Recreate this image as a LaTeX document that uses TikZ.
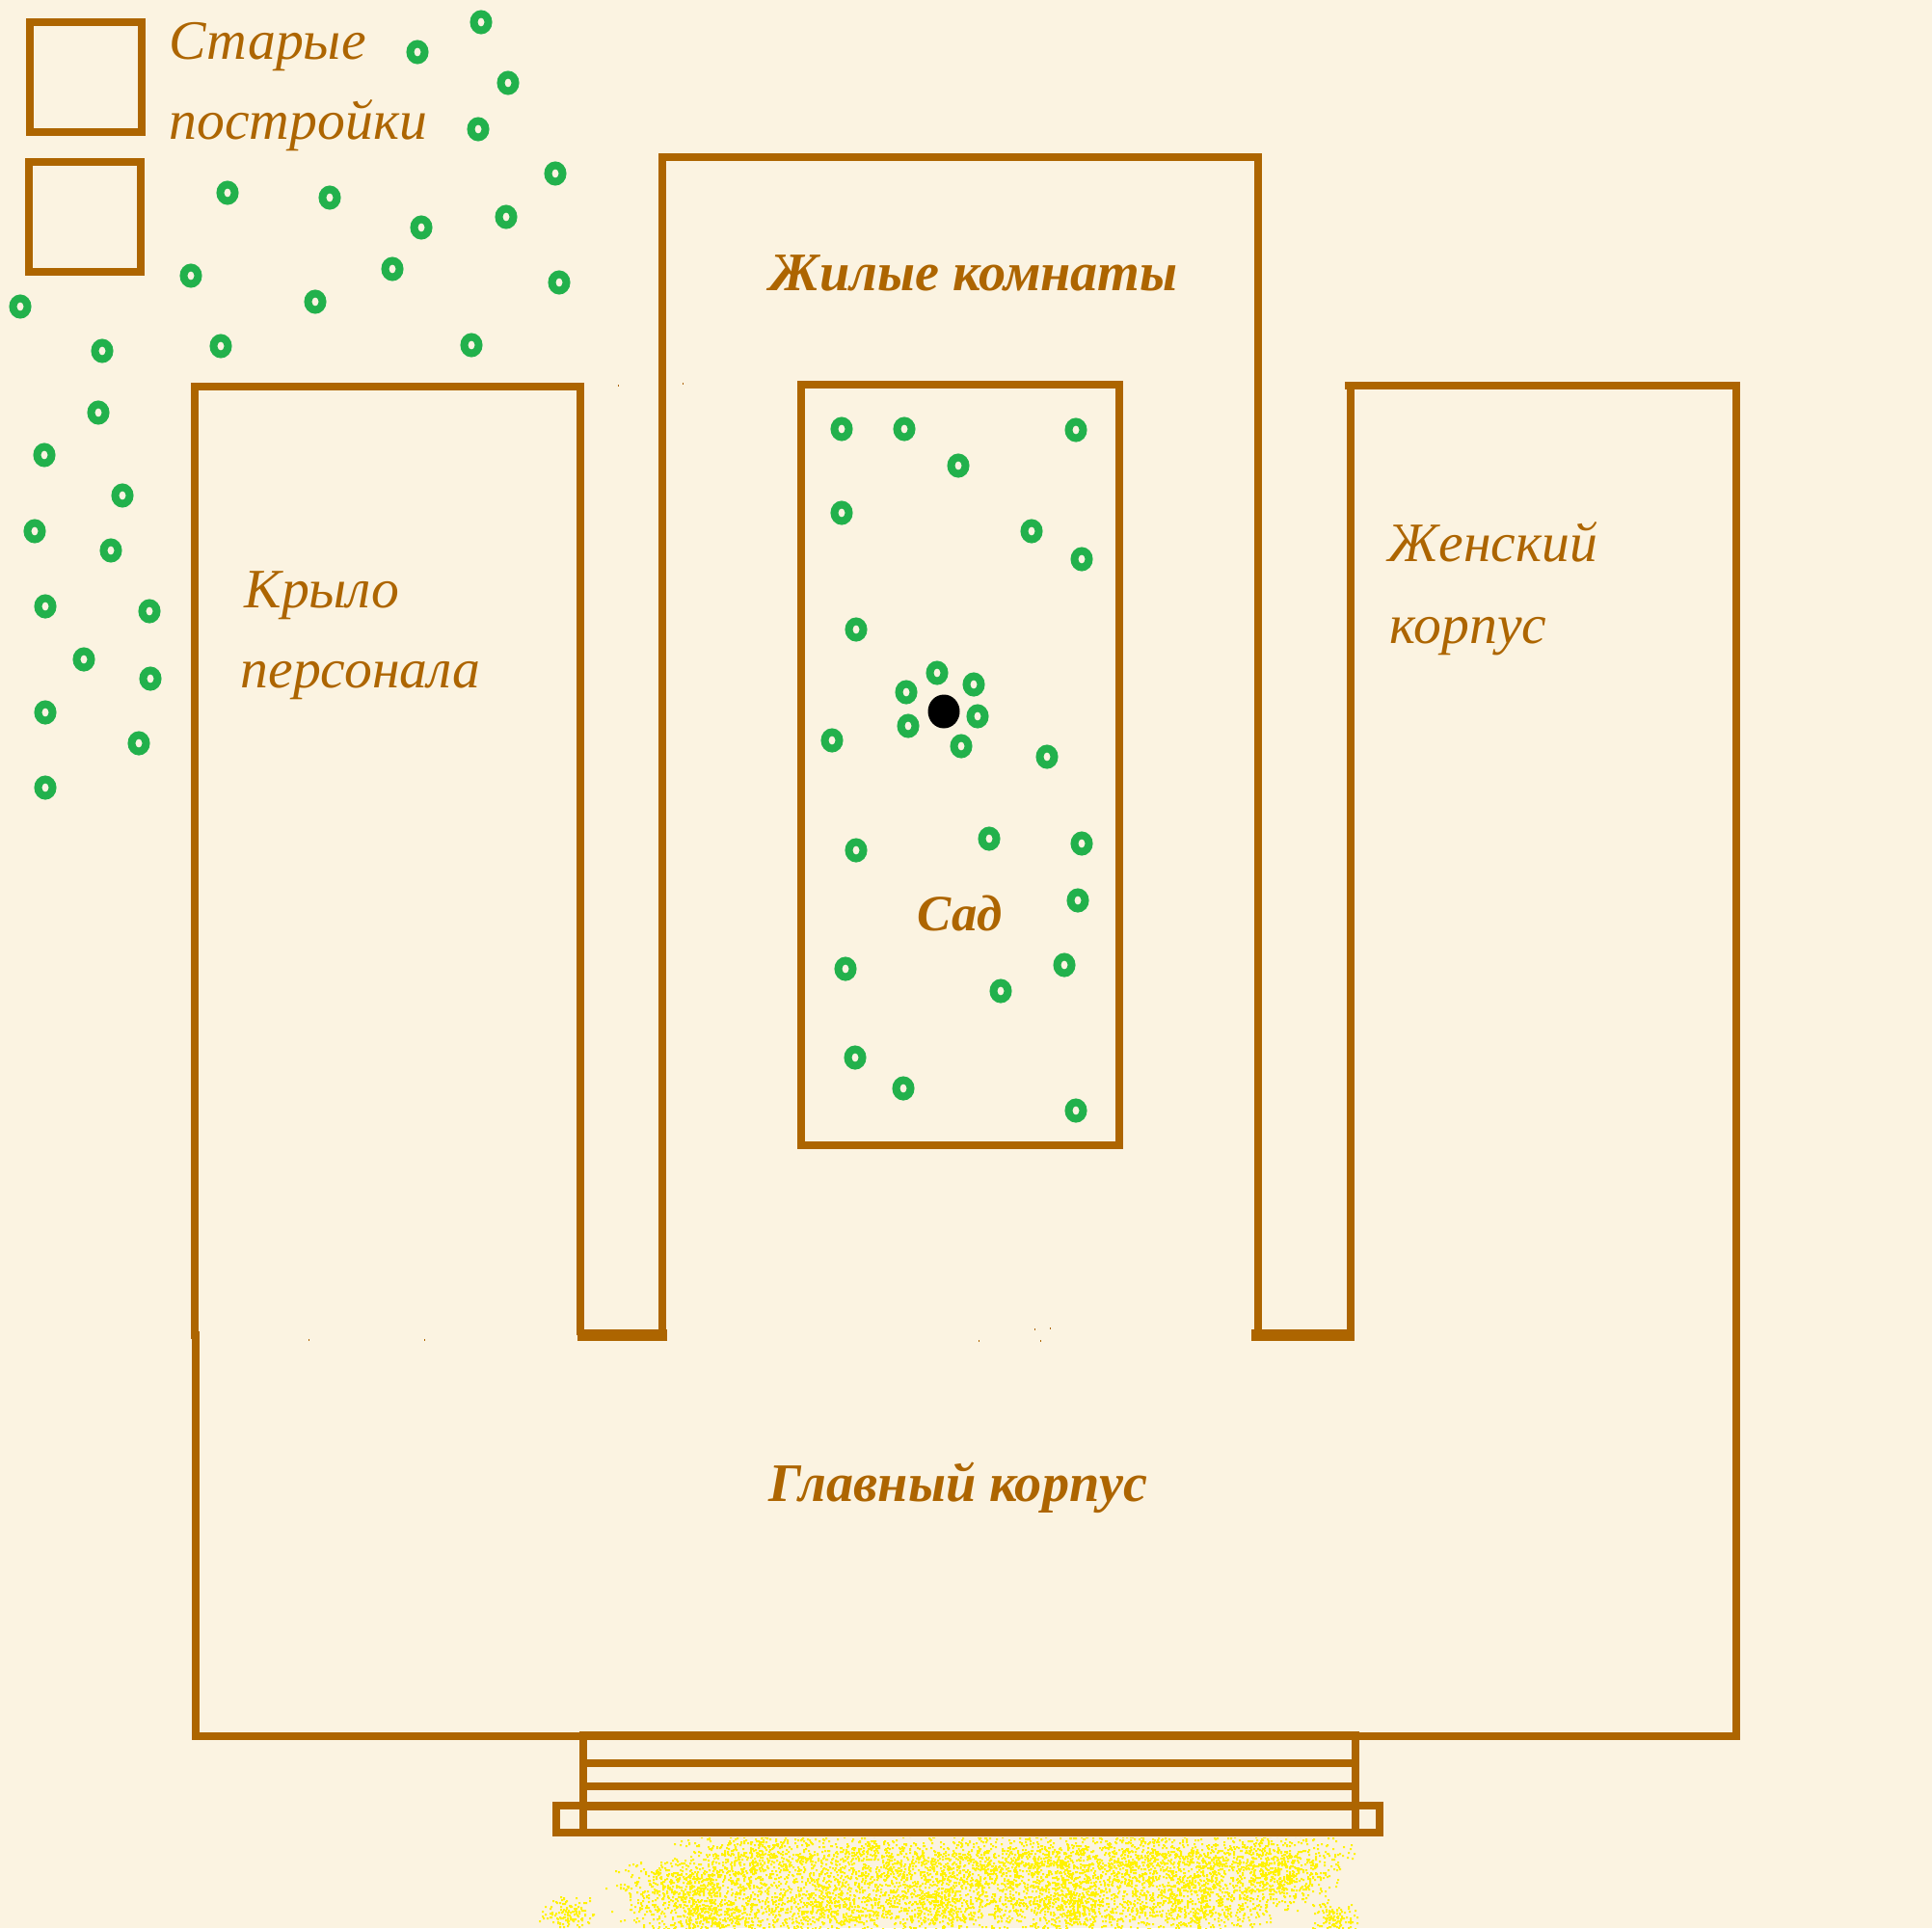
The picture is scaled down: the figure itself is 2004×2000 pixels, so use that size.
\documentclass[tikz,border=0pt]{standalone}
\usepackage{fontspec}
\setmainfont{Liberation Serif}
\definecolor{paper}{RGB}{251,243,225}
\definecolor{wall}{RGB}{173,101,0}
\definecolor{leaf}{RGB}{34,177,76}
\tikzset{
  wallline/.style={wall, line width=8*0.2845pt},
  tree/.style={leaf, line width=8*0.2845pt},
  label/.style={wall, font=\itshape\fontsize{16.4}{20}\selectfont, anchor=base west, inner sep=0pt},
  boldlabel/.style={label, font=\bfseries\itshape\fontsize{16}{20}\selectfont}
}
\begin{document}
\begin{tikzpicture}[x=0.01cm, y=-0.01cm]
 	\fill[paper] (0,0) rectangle (2004,2000);
 	\useasboundingbox (0,0) rectangle (2004,2000);
 	% sand in front of the steps
 	\pgfmathsetseed{1138}
 	\begin{scope}
 		\clip (540,1906) rectangle (1440,2000);
 		\foreach \cx/\cy/\rx/\ry/\m in {790/1925/90/22/520,920/1925/90/22/480,1050/1925/90/22/560,1180/1925/90/22/600,1310/1925/90/22/520,
 			720/1955/85/22/560,850/1955/85/22/420,980/1955/85/22/500,1110/1955/85/22/560,1240/1955/85/22/480,1335/1955/50/22/300,
 			730/1985/80/20/480,850/1985/80/20/480,980/1985/80/20/420,1110/1985/80/20/460,1240/1985/80/20/420,1385/1990/25/14/120,590/1985/30/14/130}
 		{
 			\fill[yellow] foreach \i in {1,...,\m} {
 				({int(\cx+\rx*(rand+rand)*0.55)},{int(\cy+\ry*(rand+rand)*0.7)}) rectangle ++(2,2)
 			};
 		}
 	\end{scope}
 	% old buildings
 	\draw[wallline] (31,23) rectangle (147,137);
 	\draw[wallline] (30,168) rectangle (146,282);
 	% wings and main building
 	\draw[wallline] (602,1385) -- (602,401) -- (202,401) -- (202,1389);
 	\draw[wallline] (203,1381) -- (203,1801) -- (1801,1801) -- (1801,400) -- (1395,400);
 	\draw[wallline] (1401,400) -- (1401,1385);
 	\draw[wallline] (687,1386) -- (687,163) -- (1305,163) -- (1305,1386);
 	\foreach \y in {1383,1387}
 	{
 		\draw[wallline] (599,\y) -- (692,\y);
 		\draw[wallline] (1298,\y) -- (1405,\y);
 	}
 	% garden
 	\draw[wallline] (831,399) rectangle (1161,1188);
 	% steps
 	\draw[wallline] (605,1800) rectangle (1406,1901);
 	\foreach \y in {1829,1853,1874}
 		\draw[wallline] (605,\y) -- (1406,\y);
 	\draw[wallline] (577,1873) rectangle (1431,1901);
 	% specks left by the eraser
 	\foreach \x/\y in {320/1389,440/1389,1015/1390,1073/1378,1089/1377,1079/1390,641/399,708/397}
 		\fill[wall] (\x,\y) rectangle ++(1,2);
 	% trees
 	\foreach \x/\y in {499/23,433/54,527/86,496/134,576/180,236/200,342/205,437/236,525/225,198/286,407/279,580/293,21/318,327/313,106/364,229/359,489/358,
 		102/428,46/472,127/514,36/551,115/571,47/629,155/634,87/684,156/704,47/739,144/771,47/817,
 		873/445,938/445,1116/446,994/483,873/532,1070/551,1122/580,888/653,972/698,1010/710,940/718,1014/743,942/753,997/774,863/768,1086/785,888/882,1026/870,1122/875,1118/934,1104/1001,877/1005,1038/1028,887/1097,937/1129,1116/1152}
 		\draw[tree] (\x,\y) ellipse (7.5 and 8.5);
 	\fill[black] (979,738) ellipse (16.5 and 17.5);
 	% labels
 	\node[label] (oldtop) at (175,62) {Старые};
 	\node[label] (oldbottom) at (175,145) {постройки};
 	\node[boldlabel] (living) at (798,301) {Жилые комнаты};
 	\node[label] (staffa) at (253,630) {Крыло};
 	\node[label] (staffb) at (249,713) {персонала};
 	\node[label] (womena) at (1439,582) {Женский};
 	\node[label] (womenb) at (1441,667) {корпус};
 	\node[boldlabel, font=\bfseries\itshape\fontsize{15}{20}\selectfont] (garden) at (951,965) {Сад};
 	\node[boldlabel] (mainhall) at (797,1557) {Главный корпус};
\end{tikzpicture}
\end{document}
